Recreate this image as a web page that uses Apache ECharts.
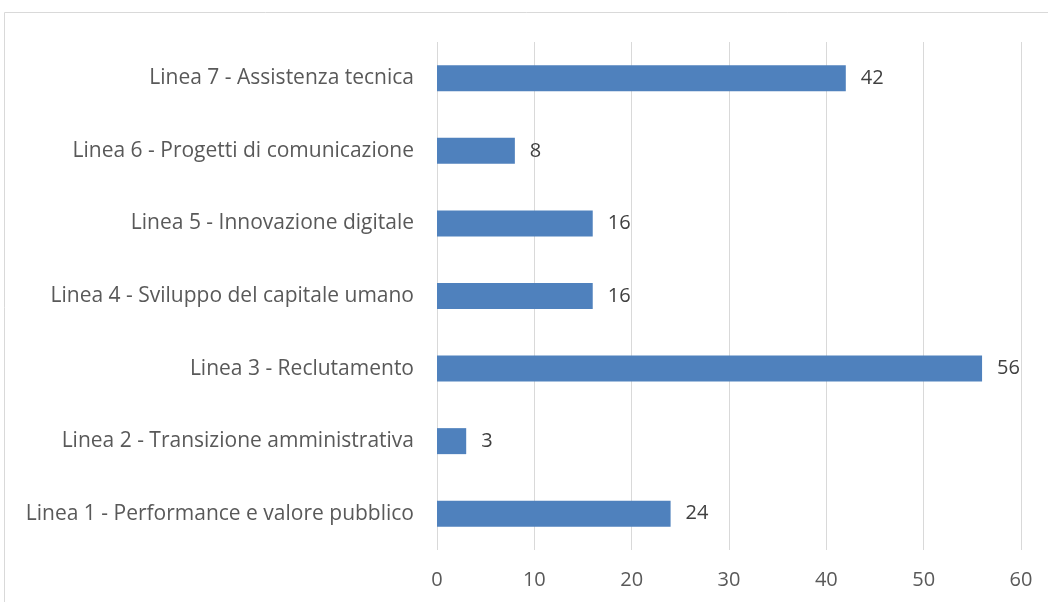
<!DOCTYPE html>
<html>
<head>
<meta charset="utf-8">
<script src="https://cdn.jsdelivr.net/npm/echarts@6/dist/echarts.min.js"></script>
<style>
html,body{margin:0;padding:0;background:#fff;}
#c{width:1048px;height:602px;}
</style>
</head>
<body>
<div id="c"></div>
<script>
const categories = [
  "Linea 1 - Performance e valore pubblico",
  "Linea 2 - Transizione amministrativa",
  "Linea 3 - Reclutamento",
  "Linea 4 - Sviluppo del capitale umano",
  "Linea 5 - Innovazione digitale",
  "Linea 6 - Progetti di comunicazione",
  "Linea 7 - Assistenza tecnica"
];
const values = [24, 3, 56, 16, 16, 8, 42];
const xMin = 0, xMax = 60, xStep = 10;

const chart = echarts.init(document.getElementById('c'), null, {renderer: 'canvas'});
const font = "'Open Sans', 'Noto Sans', sans-serif";
chart.setOption({
  animation: false,
  backgroundColor: '#ffffff',
  graphic: [{
    type: 'rect',
    shape: {x: 4.5, y: 12.5, width: 1100, height: 700},
    style: {fill: 'none', stroke: '#d9d9d9', lineWidth: 1},
    silent: true
  }],
  grid: {left: 437, right: 27, top: 42, bottom: 52, containLabel: false},
  xAxis: {
    type: 'value', min: xMin, max: xMax, interval: xStep,
    axisLine: {show: false}, axisTick: {show: false},
    splitLine: {show: true, lineStyle: {color: '#d9d9d9', width: 1}},
    axisLabel: {color: '#595959', fontSize: 20, fontFamily: font, margin: 20}
  },
  yAxis: {
    type: 'category', data: categories,
    axisLine: {show: false}, axisTick: {show: false},
    axisLabel: {color: '#595959', fontSize: 21, fontFamily: font, margin: 23}
  },
  series: [{
    type: 'bar', data: values, barWidth: 26,
    itemStyle: {color: '#4f81bd'},
    label: {show: true, position: 'right', distance: 15, color: '#404040', fontSize: 20, fontFamily: font}
  }]
});
</script>
</body>
</html>
